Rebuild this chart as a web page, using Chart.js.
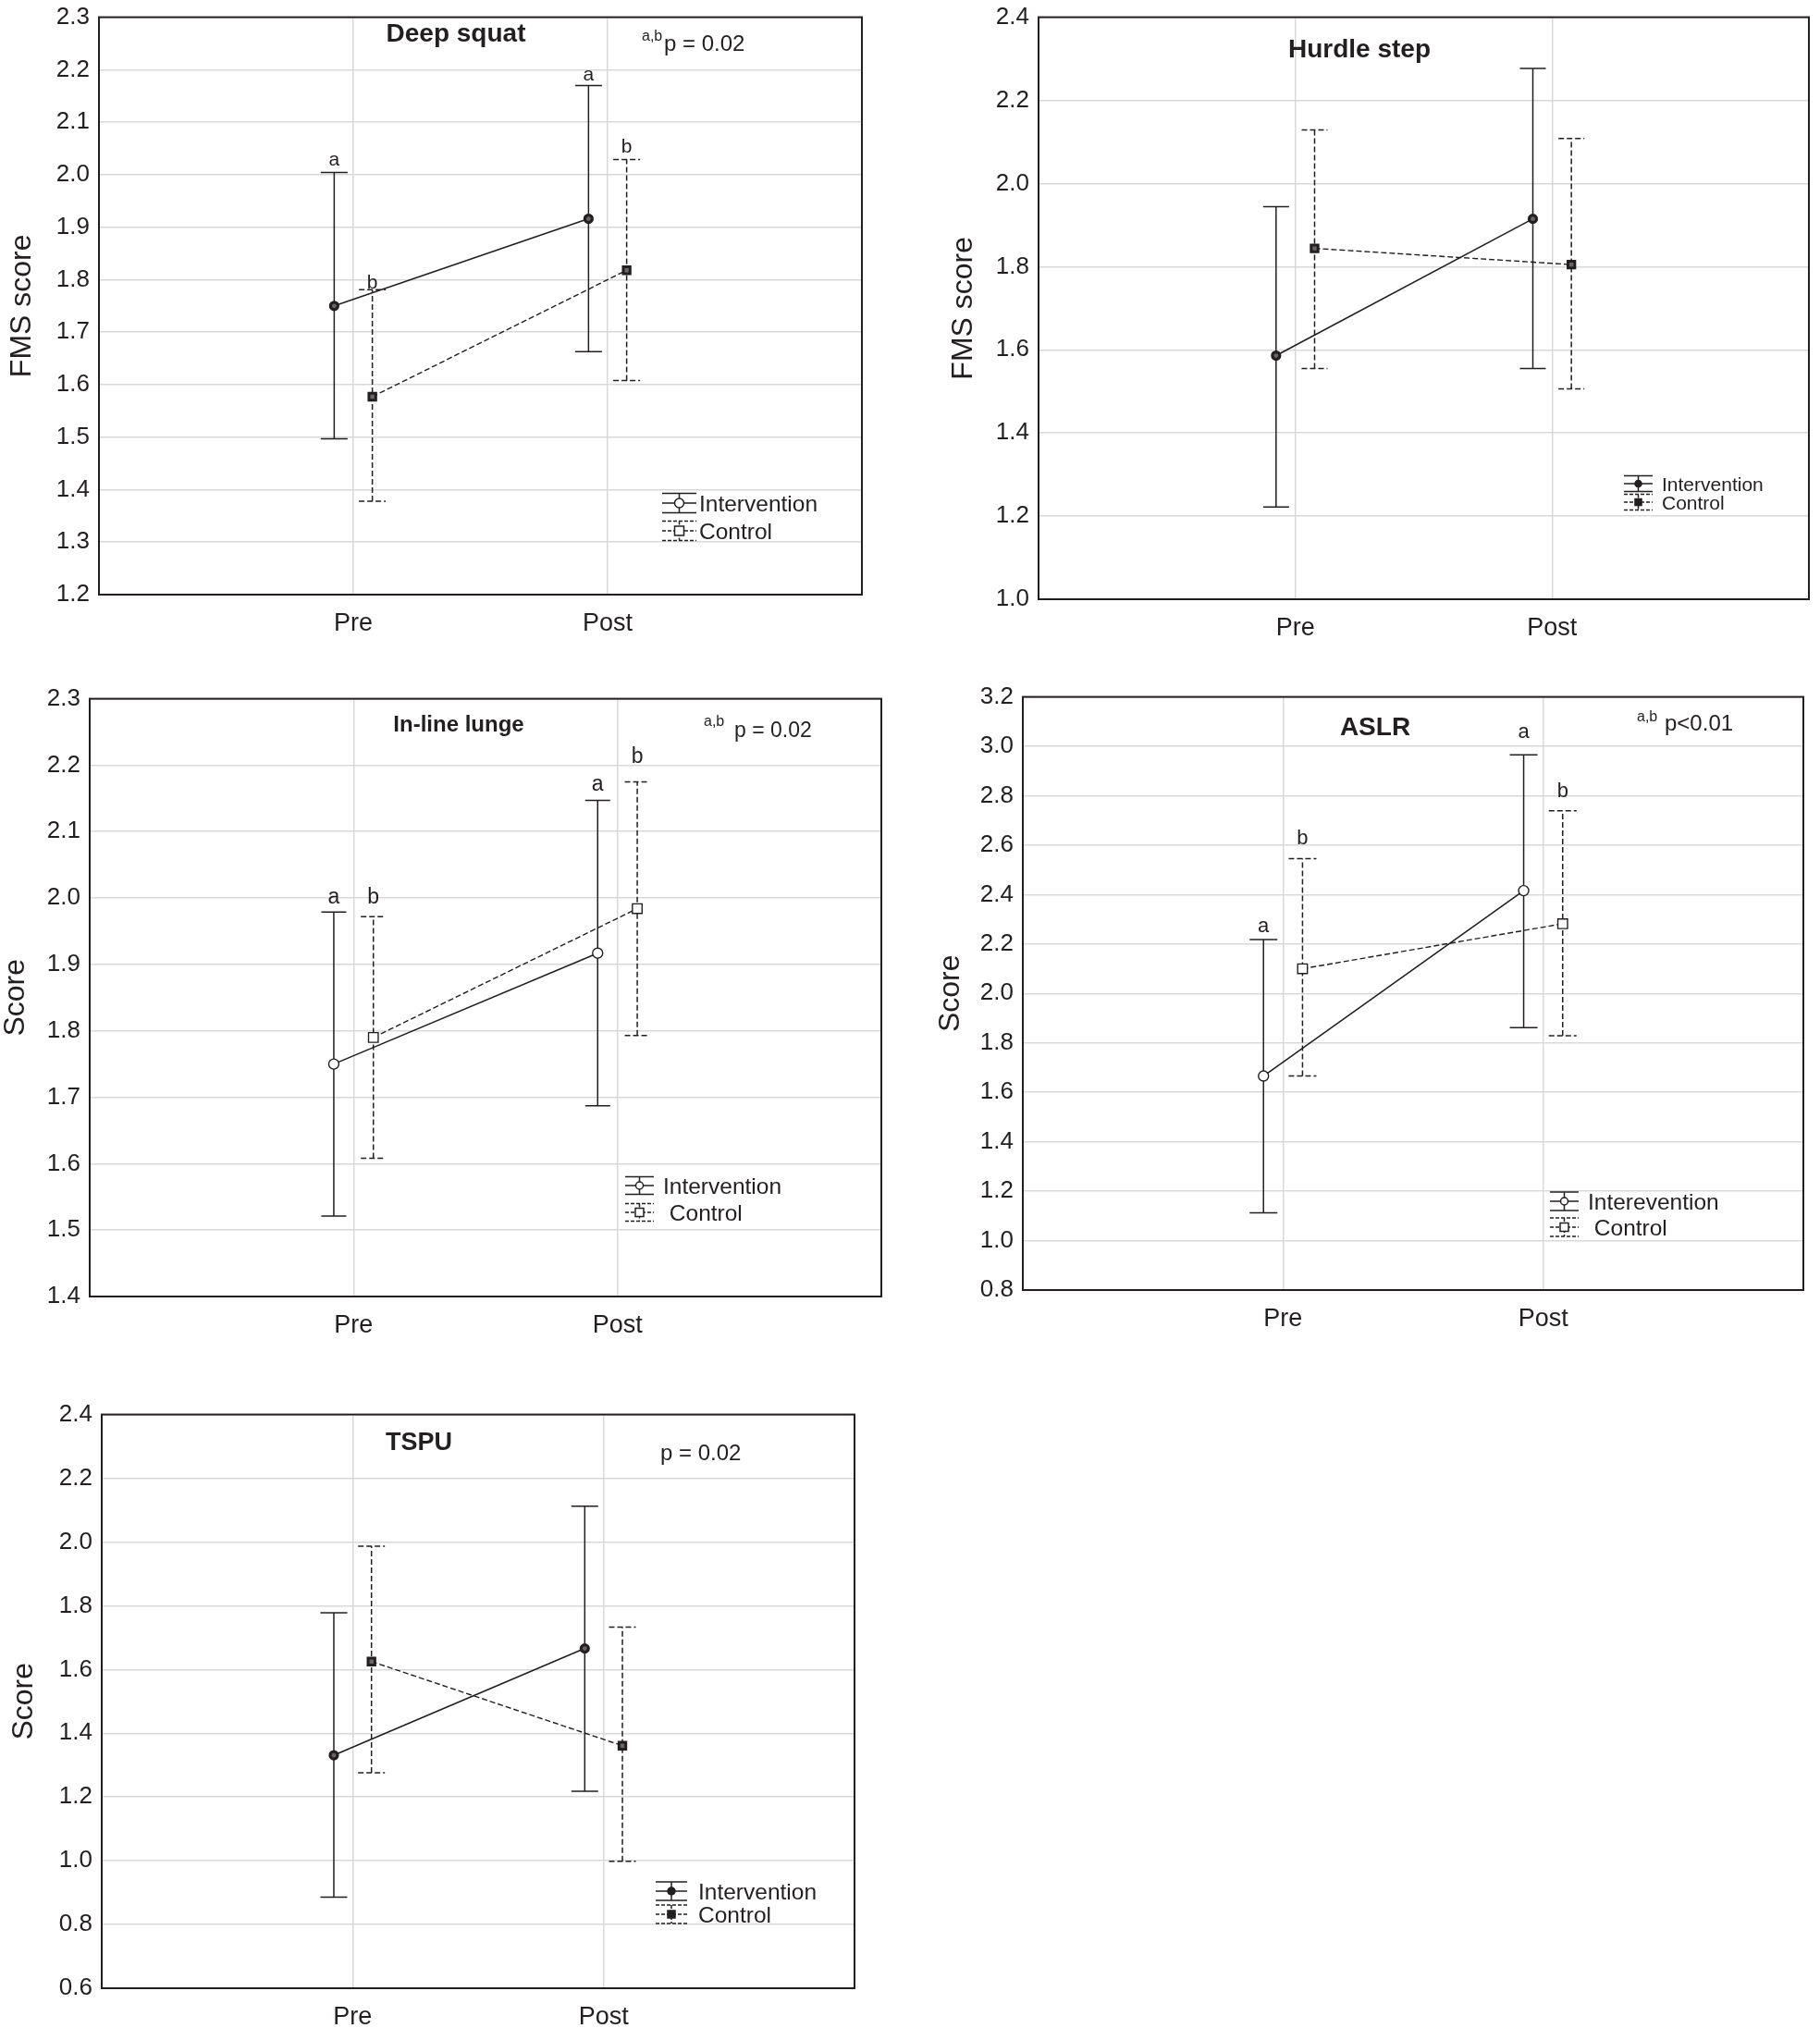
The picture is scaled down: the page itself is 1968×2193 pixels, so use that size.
<!DOCTYPE html>
<html>
<head>
<meta charset="utf-8">
<script src="https://cdn.jsdelivr.net/npm/chart.js@4.4.1/dist/chart.umd.min.js"></script>
<style>
  html, body { margin: 0; padding: 0; background: #fff; }
  body { width: 1968px; height: 2193px; position: relative; overflow: hidden; }
  canvas { position: absolute; }
</style>
</head>
<body>
<canvas id="c1"></canvas>
<canvas id="c2"></canvas>
<canvas id="c3"></canvas>
<canvas id="c4"></canvas>
<canvas id="c5"></canvas>
<script>
const categories = ['Pre', 'Post'];
const seriesNames = ['Intervention', 'Control'];

// Deep squat
const squatInt = [1.750, 1.916];
const squatIntCI = [[1.497, 2.004], [1.663, 2.170]];
const squatCtrl = [1.577, 1.818];
const squatCtrlCI = [[1.378, 1.781], [1.608, 2.029]];

// Hurdle step
const hurdleInt = [1.586, 1.915];
const hurdleIntCI = [[1.222, 1.944], [1.555, 2.277]];
const hurdleCtrl = [1.844, 1.805];
const hurdleCtrlCI = [[1.555, 2.129], [1.506, 2.108]];

// In-line lunge
const lungeInt = [1.750, 1.917];
const lungeIntCI = [[1.521, 1.979], [1.687, 2.147]];
const lungeCtrl = [1.790, 1.984];
const lungeCtrlCI = [[1.608, 1.972], [1.793, 2.175]];

// ASLR
const aslrInt = [1.666, 2.416];
const aslrIntCI = [[1.112, 2.218], [1.862, 2.966]];
const aslrCtrl = [2.100, 2.282];
const aslrCtrlCI = [[1.666, 2.546], [1.829, 2.739]];

// TSPU
const tspuInt = [1.331, 1.666];
const tspuIntCI = [[0.886, 1.778], [1.218, 2.112]];
const tspuCtrl = [1.625, 1.361];
const tspuCtrlCI = [[1.276, 1.987], [0.998, 1.733]];

const INK = '#231f20';
const GRID = '#d9d9d9';
const FONT = "'Liberation Sans', Arial, Helvetica, sans-serif";
const DODGE = 0.075;
const DASH = [6, 3];

const darkMarks = { intR: 4, intBW: 3.2, intBg: '#6a6667', ctrlR: 5.2, ctrlBW: 3, ctrlBg: '#6a6667' };
const openMarks = { intR: 5.5, intBW: 1.4, intBg: '#fff', ctrlR: 7.4, ctrlBW: 1.4, ctrlBg: '#fff' };

const panels = [
  {
    id: 'c1', area: [107, 13, 932, 643], titleX: 24, yTitle: 'FMS score', yRange: [1.2, 2.3, 0.1],
    int: squatInt, intCI: squatIntCI, ctrl: squatCtrl, ctrlCI: squatCtrlCI,
    marks: darkMarks, cap: 29,
    title: { text: 'Deep squat', x: 493, y: 45, size: 28 },
    pval: { sup: 'a,b', supX: 694, supY: 44, text: 'p = 0.02', x: 718, y: 55, size: 24 },
    letters: { size: 21, items: [[0, 0, 'a', 8], [1, 0, 'b', 1], [0, 1, 'a', 5], [1, 1, 'b', 7]] },
    legend: { x0: 716, x1: 753, y: 544, gap: 30, h: 10.5, textX: 756, size: 24.5, names: seriesNames,
              mark: { open: true, r: 5, sq: 10 } }
  },
  {
    id: 'c2', area: [1123, 13, 1956, 648], titleX: 1042, yTitle: 'FMS score', yRange: [1.0, 2.4, 0.2],
    int: hurdleInt, intCI: hurdleIntCI, ctrl: hurdleCtrl, ctrlCI: hurdleCtrlCI,
    marks: darkMarks, cap: 28,
    title: { text: 'Hurdle step', x: 1470, y: 62, size: 28 },
    pval: null,
    letters: null,
    legend: { x0: 1756, x1: 1787, y: 523, gap: 20, h: 8.5, textX: 1797, size: 21, names: seriesNames,
              mark: { open: false, r: 3.5, sq: 7 } }
  },
  {
    id: 'c3', area: [97, 750, 953, 1402], titleX: 17, yTitle: 'Score', yRange: [1.4, 2.3, 0.1],
    int: lungeInt, intCI: lungeIntCI, ctrl: lungeCtrl, ctrlCI: lungeCtrlCI,
    marks: openMarks, cap: 27,
    title: { text: 'In-line lunge', x: 496, y: 791, size: 24 },
    pval: { sup: 'a,b', supX: 761, supY: 785, text: 'p = 0.02', x: 794, y: 797, size: 23 },
    letters: { size: 23, items: [[0, 0, 'a', 9], [1, 0, 'b', 14], [0, 1, 'a', 10], [1, 1, 'b', 20]] },
    legend: { x0: 676, x1: 707, y: 1282, gap: 29, h: 9.5, textX: 717, size: 24.5, names: ['Intervention', ' Control'],
              mark: { open: true, r: 4, sq: 9 } }
  },
  {
    id: 'c4', area: [1106, 748, 1950, 1395], titleX: 1028, yTitle: 'Score', yRange: [0.8, 3.2, 0.2],
    int: aslrInt, intCI: aslrIntCI, ctrl: aslrCtrl, ctrlCI: aslrCtrlCI,
    marks: openMarks, cap: 30,
    title: { text: 'ASLR', x: 1487, y: 795, size: 28 },
    pval: { sup: 'a,b', supX: 1770, supY: 780, text: 'p<0.01', x: 1800, y: 790, size: 24 },
    letters: { size: 22, items: [[0, 0, 'a', 8], [1, 0, 'b', 15], [0, 1, 'a', 18], [1, 1, 'b', 15]] },
    legend: { x0: 1676, x1: 1707, y: 1299, gap: 28, h: 10, textX: 1717, size: 24.5, names: ['Interevention', ' Control'],
              mark: { open: true, r: 4, sq: 9 } }
  },
  {
    id: 'c5', area: [110, 1524, 924, 2150], titleX: 26, yTitle: 'Score', yRange: [0.6, 2.4, 0.2],
    int: tspuInt, intCI: tspuIntCI, ctrl: tspuCtrl, ctrlCI: tspuCtrlCI,
    marks: darkMarks, cap: 29,
    title: { text: 'TSPU', x: 453, y: 1568, size: 27 },
    pval: { sup: '', supX: 0, supY: 0, text: 'p = 0.02', x: 714, y: 1579, size: 24 },
    letters: null,
    legend: { x0: 709, x1: 743, y: 2045, gap: 25, h: 10, textX: 755, size: 24.5, names: seriesNames,
              mark: { open: false, r: 4, sq: 8 } }
  }
];

function legendMarker(ctx, cx, cy, k, m) {
  ctx.setLineDash([]);
  ctx.fillStyle = m.open ? '#fff' : INK;
  ctx.strokeStyle = INK;
  ctx.lineWidth = 1.5;
  ctx.beginPath();
  if (k === 0) ctx.arc(cx, cy, m.r, 0, Math.PI * 2);
  else ctx.rect(cx - m.sq / 2, cy - m.sq / 2, m.sq, m.sq);
  ctx.fill();
  ctx.stroke();
}

function makeExtras(cfg, ox, oy) {
  return {
    id: 'extras' + cfg.id,
    beforeDatasetsDraw(chart) {
      const { ctx, scales: { x, y } } = chart;
      ctx.save();
      ctx.strokeStyle = INK;
      ctx.lineWidth = 1.5;
      chart.data.datasets.forEach(ds => {
        ctx.setLineDash(ds.borderDash || []);
        ds.data.forEach((pt, i) => {
          const px = x.getPixelForValue(pt.x);
          const lo = y.getPixelForValue(ds.ci[i][0]);
          const hi = y.getPixelForValue(ds.ci[i][1]);
          ctx.beginPath();
          ctx.moveTo(px, lo); ctx.lineTo(px, hi);
          ctx.moveTo(px - cfg.cap / 2, lo); ctx.lineTo(px + cfg.cap / 2, lo);
          ctx.moveTo(px - cfg.cap / 2, hi); ctx.lineTo(px + cfg.cap / 2, hi);
          ctx.stroke();
        });
      });
      ctx.restore();
    },
    afterDraw(chart) {
      const { ctx, chartArea: a, scales: { x, y } } = chart;
      ctx.save();
      // frame
      ctx.setLineDash([]);
      ctx.strokeStyle = INK;
      ctx.lineWidth = 2;
      ctx.strokeRect(a.left, a.top, a.right - a.left, a.bottom - a.top);

      ctx.fillStyle = INK;
      ctx.textBaseline = 'alphabetic';
      // panel title
      ctx.font = 'bold ' + cfg.title.size + 'px ' + FONT;
      ctx.textAlign = 'center';
      ctx.fillText(cfg.title.text, cfg.title.x - ox, cfg.title.y - oy);

      // p value
      if (cfg.pval) {
        ctx.textAlign = 'left';
        if (cfg.pval.sup) {
          ctx.font = '16px ' + FONT;
          ctx.fillText(cfg.pval.sup, cfg.pval.supX - ox, cfg.pval.supY - oy);
        }
        ctx.font = cfg.pval.size + 'px ' + FONT;
        ctx.fillText(cfg.pval.text, cfg.pval.x - ox, cfg.pval.y - oy);
      }

      // significance letters above whisker caps
      if (cfg.letters) {
        ctx.font = cfg.letters.size + 'px ' + FONT;
        ctx.textAlign = 'center';
        cfg.letters.items.forEach(([d, i, t, gap]) => {
          const ds = chart.data.datasets[d];
          const px = x.getPixelForValue(ds.data[i].x);
          const py = y.getPixelForValue(ds.ci[i][1]);
          ctx.fillText(t, px, py - gap);
        });
      }

      // legend
      const lg = cfg.legend;
      const cx = (lg.x0 + lg.x1) / 2 - ox;
      lg.names.forEach((name, k) => {
        const cy = lg.y + k * lg.gap - oy;
        ctx.strokeStyle = INK;
        ctx.lineWidth = 1.5;
        ctx.setLineDash(k === 1 ? [4, 2] : []);
        ctx.beginPath();
        ctx.moveTo(lg.x0 - ox, cy - lg.h); ctx.lineTo(lg.x1 - ox, cy - lg.h);
        ctx.moveTo(lg.x0 - ox, cy + lg.h); ctx.lineTo(lg.x1 - ox, cy + lg.h);
        ctx.moveTo(lg.x0 - ox, cy); ctx.lineTo(lg.x1 - ox, cy);
        ctx.moveTo(cx, cy - lg.h); ctx.lineTo(cx, cy + lg.h);
        ctx.stroke();
        legendMarker(ctx, cx, cy, k, lg.mark);
        ctx.fillStyle = INK;
        ctx.font = lg.size + 'px ' + FONT;
        ctx.textAlign = 'left';
        ctx.fillText(name, lg.textX - ox, cy + lg.size * 0.36);
      });
      ctx.restore();
    }
  };
}

function makeChart(cfg) {
  const canvas = document.getElementById(cfg.id);
  const [L, T, R, B] = cfg.area;
  const padTop = 20, padRight = 20, xH = 64;
  const left = Math.round(cfg.titleX - 16);
  const top = T - padTop;
  const yW = L - left;
  const w = yW + (R - L) + padRight;
  const h = padTop + (B - T) + xH;
  canvas.width = w; canvas.height = h;
  canvas.style.width = w + 'px'; canvas.style.height = h + 'px';
  canvas.style.left = left + 'px'; canvas.style.top = top + 'px';

  const m = cfg.marks;
  new Chart(canvas, {
    type: 'line',
    data: {
      datasets: [
        {
          label: seriesNames[0],
          data: cfg.int.map((v, i) => ({ x: i + 1 - DODGE, y: v })),
          ci: cfg.intCI,
          borderColor: INK, borderWidth: 1.6, fill: false, tension: 0,
          pointStyle: 'circle', pointRadius: m.intR, pointBorderWidth: m.intBW,
          pointBorderColor: INK, pointBackgroundColor: m.intBg
        },
        {
          label: seriesNames[1],
          data: cfg.ctrl.map((v, i) => ({ x: i + 1 + DODGE, y: v })),
          ci: cfg.ctrlCI,
          borderColor: INK, borderWidth: 1.4, borderDash: DASH, fill: false, tension: 0,
          pointStyle: 'rect', pointRadius: m.ctrlR, pointBorderWidth: m.ctrlBW,
          pointBorderColor: INK, pointBackgroundColor: m.ctrlBg
        }
      ]
    },
    options: {
      responsive: false,
      maintainAspectRatio: false,
      animation: false,
      devicePixelRatio: 1,
      layout: { padding: { top: padTop, right: padRight, left: 0, bottom: 0 } },
      plugins: { legend: { display: false }, tooltip: { enabled: false } },
      scales: {
        x: {
          type: 'linear', min: 0, max: 3,
          afterBuildTicks: s => { s.ticks = categories.map((c, i) => ({ value: i + 1 })); },
          afterFit: s => { s.height = xH; },
          ticks: {
            callback: v => categories[v - 1] || '',
            color: INK, font: { family: FONT, size: 27 }, padding: 15, maxRotation: 0, autoSkip: false
          },
          grid: { color: GRID, lineWidth: 1.5, drawTicks: false },
          border: { color: INK, width: 2 }
        },
        y: {
          min: cfg.yRange[0], max: cfg.yRange[1],
          afterFit: s => { s.width = yW; },
          ticks: {
            stepSize: cfg.yRange[2],
            callback: v => v.toFixed(1),
            color: INK, font: { family: FONT, size: 26 }, padding: 10
          },
          grid: { color: GRID, lineWidth: 1.5, drawTicks: false },
          border: { color: INK, width: 2 },
          title: {
            display: true, text: cfg.yTitle, color: INK, padding: 0,
            font: { family: FONT, size: 32, lineHeight: 1 }
          }
        }
      }
    },
    plugins: [makeExtras(cfg, left, top)]
  });
}

panels.forEach(makeChart);
</script>
</body>
</html>
